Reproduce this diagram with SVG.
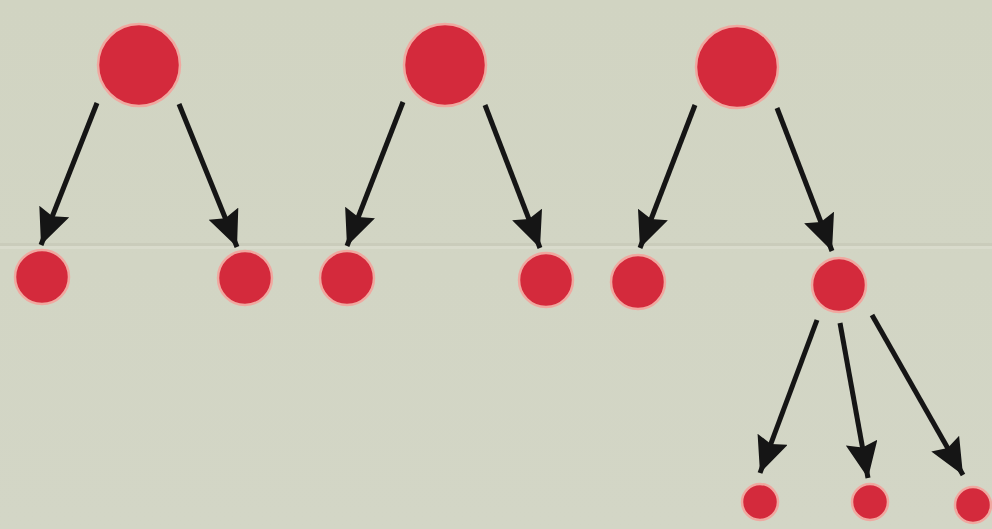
<svg xmlns="http://www.w3.org/2000/svg" width="992" height="529" viewBox="0 0 992 529">
<defs>
<marker id="ah" markerUnits="userSpaceOnUse" markerWidth="40" markerHeight="34" refX="36" refY="16" orient="auto">
<path d="M0,0 L36,16 L0,32 L5,16 z" fill="#151515"/>
</marker>
<linearGradient id="bg" x1="0" y1="0" x2="0" y2="1">
<stop offset="0" stop-color="#d1d4c2"/>
<stop offset="1" stop-color="#d3d6c6"/>
</linearGradient>
</defs>
<style>
.n{fill:#d42a3c;stroke:#f0a8a0;stroke-width:2.5}
.c{stroke:#151515;stroke-width:5;fill:none;marker-end:url(#ah)}
</style>
<rect width="992" height="529" fill="url(#bg)"/>
<rect x="0" y="243" width="992" height="3" fill="#c4c7b6" opacity="0.6"/>
<rect x="0" y="246" width="992" height="3" fill="#dfe1d3" opacity="0.5"/>
<g id="connectors">
<line class="c" x1="97" y1="103" x2="41" y2="245"/>
<line class="c" x1="179" y1="104" x2="237" y2="247"/>
<line class="c" x1="403" y1="102" x2="347" y2="246"/>
<line class="c" x1="485" y1="105" x2="540" y2="248"/>
<line class="c" x1="695" y1="105" x2="640" y2="248"/>
<line class="c" x1="777" y1="108" x2="832" y2="251"/>
<line class="c" x1="817" y1="320" x2="760" y2="473"/>
<line class="c" x1="840" y1="323" x2="868" y2="478"/>
<line class="c" x1="872" y1="315" x2="963" y2="475"/>
</g>
<g id="n1"><circle class="n" cx="139" cy="65" r="41"/></g>
<g id="n2"><circle class="n" cx="445" cy="65" r="41"/></g>
<g id="n3"><circle class="n" cx="737" cy="67" r="41"/></g>
<g id="n4"><circle class="n" cx="42" cy="277" r="27"/></g>
<g id="n5"><circle class="n" cx="245" cy="278" r="27"/></g>
<g id="n6"><circle class="n" cx="347" cy="278" r="27"/></g>
<g id="n7"><circle class="n" cx="546" cy="280" r="27"/></g>
<g id="n8"><circle class="n" cx="638" cy="282" r="27"/></g>
<g id="n9"><circle class="n" cx="839" cy="285" r="27"/></g>
<g id="n10"><circle class="n" cx="760" cy="502" r="18"/></g>
<g id="n11"><circle class="n" cx="870" cy="502" r="18"/></g>
<g id="n12"><circle class="n" cx="973" cy="505" r="18"/></g>
</svg>
